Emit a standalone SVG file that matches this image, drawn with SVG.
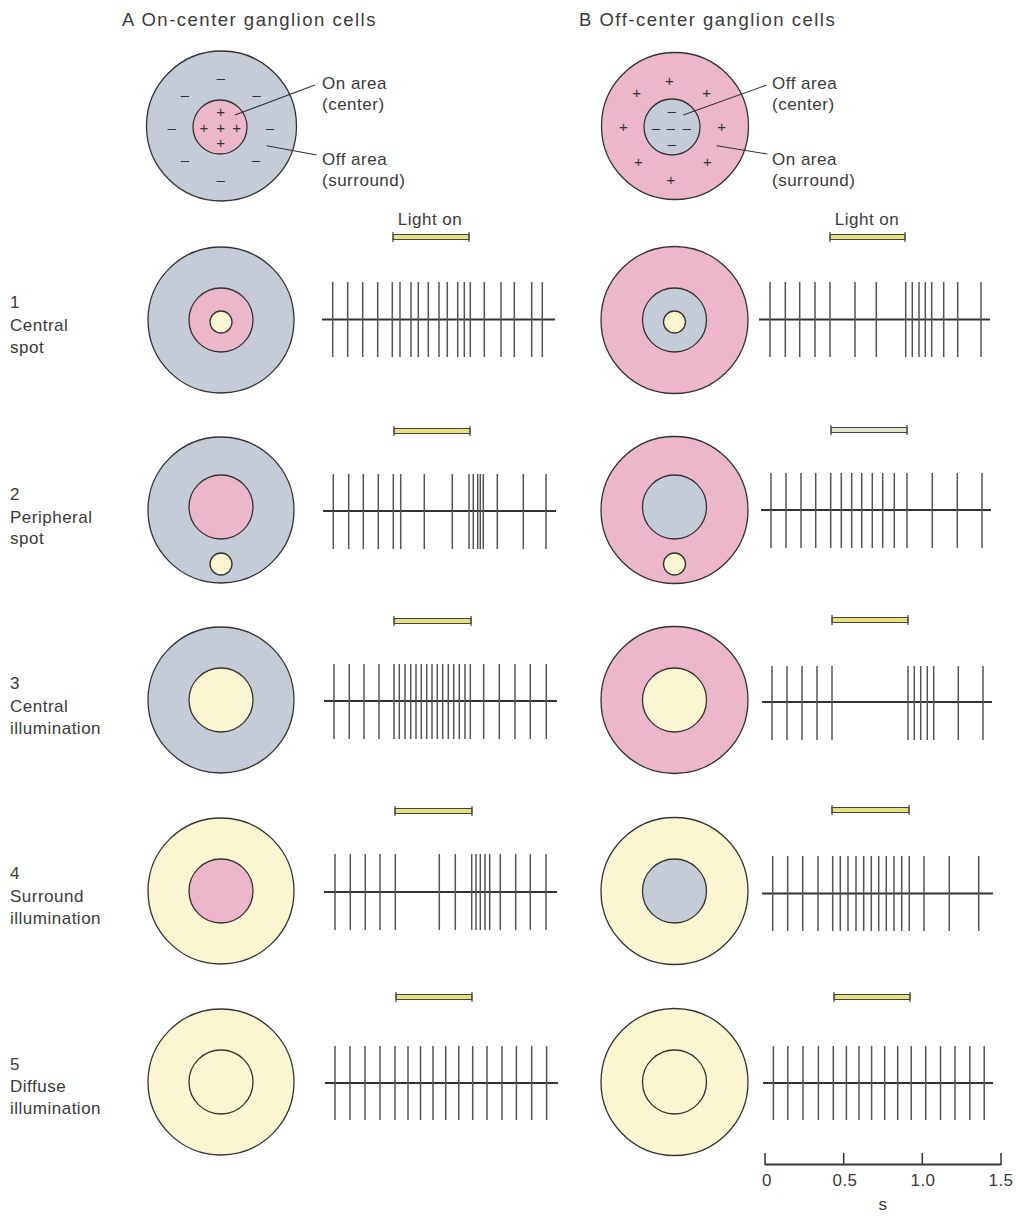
<svg xmlns="http://www.w3.org/2000/svg" width="1016" height="1216" viewBox="0 0 1016 1216">
<style>
text{font-family:"Liberation Sans",Arial,sans-serif;fill:#3a3a3a}
.t{font-size:18.5px;letter-spacing:1.5px}
.l{font-size:17px;letter-spacing:0.5px}
.sg{font-size:15px;text-anchor:middle;dominant-baseline:central;fill:#333}
.c{stroke:#333;stroke-width:1.3}
.blue{fill:#c5ccd8}
.pink{fill:#ecb7ca}
.yel{fill:#faf6d2}
.none{fill:none}
.sp{stroke:#555;stroke-width:1.5;fill:none}
.bl{stroke:#333;stroke-width:2;fill:none}
.bar{fill:#e6df7a;stroke:#444;stroke-width:1}
.bar2{fill:#e2e4cc;stroke:#444;stroke-width:1}
.cap{stroke:#444;stroke-width:1.2}
.ld{stroke:#333;stroke-width:1.1;fill:none}
</style>
<rect width="1016" height="1216" fill="#fff"/>

<g id="titles">
<text class="t" x="122" y="26">A  On-center ganglion cells</text>
<text class="t" x="579" y="26">B  Off-center ganglion cells</text>
</g>

<g id="topA">
<circle class="c blue" cx="221.5" cy="126" r="75"/>
<circle class="c pink" cx="220" cy="127" r="27"/>
<text class="sg" x="220.7" y="111.7">+</text>
<text class="sg" x="204" y="127">+</text>
<text class="sg" x="220.7" y="127">+</text>
<text class="sg" x="236.7" y="127">+</text>
<text class="sg" x="220.7" y="142.7">+</text>
<text class="sg" x="220.7" y="77">–</text>
<text class="sg" x="185" y="94">–</text>
<text class="sg" x="256.7" y="94">–</text>
<text class="sg" x="171.7" y="127">–</text>
<text class="sg" x="270" y="127">–</text>
<text class="sg" x="185" y="159">–</text>
<text class="sg" x="256" y="159">–</text>
<text class="sg" x="220.7" y="179">–</text>
<text class="l" x="322" y="89">On area</text>
<text class="l" x="322" y="110">(center)</text>
<text class="l" x="322" y="165">Off area</text>
<text class="l" x="322" y="186">(surround)</text>
</g>

<g id="topB">
<circle class="c pink" cx="675" cy="126" r="73.5"/>
<circle class="c blue" cx="672" cy="127" r="28"/>
<text class="sg" x="669.3" y="80">+</text>
<text class="sg" x="636.7" y="92.7">+</text>
<text class="sg" x="706.7" y="92.7">+</text>
<text class="sg" x="623.3" y="126.7">+</text>
<text class="sg" x="721.7" y="126.7">+</text>
<text class="sg" x="638.3" y="161.7">+</text>
<text class="sg" x="707.3" y="161.7">+</text>
<text class="sg" x="671" y="179.3">+</text>
<text class="sg" x="671.7" y="110.7">–</text>
<text class="sg" x="656" y="127.3">–</text>
<text class="sg" x="670.7" y="127.3">–</text>
<text class="sg" x="686.7" y="127.3">–</text>
<text class="sg" x="671.7" y="143.3">–</text>
<text class="l" x="772" y="89">Off area</text>
<text class="l" x="772" y="110">(center)</text>
<text class="l" x="772" y="165">On area</text>
<text class="l" x="772" y="186">(surround)</text>
</g>

<g id="connectors">
<path class="ld" d="M235 115 L315 85"/>
<path class="ld" d="M266.7 145.7 L316.7 155"/>
<path class="ld" d="M683.3 115 L766.7 85"/>
<path class="ld" d="M716.7 145.7 L767.3 154"/>
</g>

<g id="rowlabels">
<text class="l" x="10" y="308">1</text><text class="l" x="10" y="331">Central</text><text class="l" x="10" y="353">spot</text>
<text class="l" x="10" y="500">2</text><text class="l" x="10" y="523">Peripheral</text><text class="l" x="10" y="544">spot</text>
<text class="l" x="10" y="689">3</text><text class="l" x="10" y="712">Central</text><text class="l" x="10" y="734">illumination</text>
<text class="l" x="10" y="879">4</text><text class="l" x="10" y="902">Surround</text><text class="l" x="10" y="924">illumination</text>
<text class="l" x="10" y="1070">5</text><text class="l" x="10" y="1092">Diffuse</text><text class="l" x="10" y="1114">illumination</text>
</g>

<g id="lighton">
<text class="l" x="430" y="225" text-anchor="middle">Light on</text>
<text class="l" x="867" y="225" text-anchor="middle">Light on</text>
</g>

<g id="row1A">
<circle class="c blue" cx="221" cy="320" r="73"/>
<circle class="c pink" cx="221" cy="320" r="32"/>
<circle class="c yel" cx="221" cy="322" r="11"/>
<rect class="bar" x="393" y="234.5" width="76" height="5"/><path class="cap" d="M393 232v10M469 232v10"/>
<path class="bl" d="M322 319.5H555"/>
<path class="sp" d="M332.7 282V357M347.7 282V357M362.7 282V357M377.7 282V357M392.3 282V357M400 282V357M411 282V357M418.3 282V357M428.3 282V357M439 282V357M447.3 282V357M457.7 282V357M464.3 282V357M470.3 282V357M484.3 282V357M501 282V357M514.3 282V357M531.7 282V357M542.3 282V357"/>
</g>
<g id="row1B">
<circle class="c pink" cx="674.5" cy="320" r="73.5"/>
<circle class="c blue" cx="674.5" cy="320" r="32"/>
<circle class="c yel" cx="674.5" cy="322" r="11"/>
<rect class="bar" x="830" y="234.5" width="75" height="5"/><path class="cap" d="M830 232v10M905 232v10"/>
<path class="bl" d="M759 319.5H990"/>
<path class="sp" d="M770 282V357M785.3 282V357M799.7 282V357M815 282V357M830 282V357M855 282V357M876.3 282V357M905.7 282V357M912.3 282V357M919 282V357M925.3 282V357M931.7 282V357M943.7 282V357M957.7 282V357M981 282V357"/>
</g>

<g id="row2A">
<circle class="c blue" cx="221" cy="510" r="73"/>
<circle class="c pink" cx="221" cy="507" r="32"/>
<circle class="c yel" cx="221" cy="564" r="11"/>
<rect class="bar" x="394" y="428.5" width="76" height="5"/><path class="cap" d="M394 426v10M470 426v10"/>
<path class="bl" d="M323 511H556"/>
<path class="sp" d="M333.3 474V549M348.7 474V549M363.3 474V549M378.3 474V549M393.3 474V549M400.7 474V549M424.3 474V549M452.3 474V549M469 474V549M473.3 474V549M477.7 474V549M480.3 474V549M483.3 474V549M497.3 474V549M523.3 474V549M546 474V549"/>
</g>
<g id="row2B">
<circle class="c pink" cx="674.5" cy="510" r="73.5"/>
<circle class="c blue" cx="674.5" cy="507" r="32"/>
<circle class="c yel" cx="674.5" cy="564" r="11"/>
<rect class="bar2" x="831" y="427.5" width="76" height="5"/><path class="cap" d="M831 425v10M907 425v10"/>
<path class="bl" d="M761 510H991"/>
<path class="sp" d="M771 473V548M786 473V548M801 473V548M815.7 473V548M830.7 473V548M841.3 473V548M851.7 473V548M861.7 473V548M872.3 473V548M882.7 473V548M894.3 473V548M907 473V548M932.3 473V548M957.3 473V548M982 473V548"/>
</g>

<g id="row3A">
<circle class="c blue" cx="221" cy="700" r="73"/>
<circle class="c yel" cx="221" cy="700" r="32"/>
<rect class="bar" x="394" y="618.5" width="77" height="5"/><path class="cap" d="M394 616v10M471 616v10"/>
<path class="bl" d="M324 701H557"/>
<path class="sp" d="M334 664V739M349.3 664V739M364 664V739M379 664V739M394 664V739M399.3 664V739M405 664V739M410.7 664V739M416 664V739M421.3 664V739M426.7 664V739M432 664V739M437.3 664V739M442.7 664V739M448.3 664V739M453.7 664V739M459.3 664V739M465 664V739M470.3 664V739M483.7 664V739M499.3 664V739M515 664V739M530.3 664V739M546.3 664V739"/>
</g>
<g id="row3B">
<circle class="c pink" cx="674.5" cy="700" r="73.5"/>
<circle class="c yel" cx="674.5" cy="700" r="32"/>
<rect class="bar" x="832" y="617.5" width="76" height="5"/><path class="cap" d="M832 615v10M908 615v10"/>
<path class="bl" d="M762 702H992"/>
<path class="sp" d="M772 666V740M787 666V740M802 666V740M817 666V740M832 666V740M908 666V740M914.3 666V740M920.7 666V740M927.3 666V740M933.7 666V740M958.3 666V740M983 666V740"/>
</g>

<g id="row4A">
<circle class="c yel" cx="221" cy="891" r="73"/>
<circle class="c pink" cx="221" cy="891" r="32"/>
<rect class="bar" x="395" y="808.5" width="77" height="5"/><path class="cap" d="M395 806v10M472 806v10"/>
<path class="bl" d="M324 892H557"/>
<path class="sp" d="M335 854V930M350.3 854V930M365.3 854V930M380 854V930M395.3 854V930M439.3 854V930M455.3 854V930M471.7 854V930M476 854V930M480.3 854V930M485 854V930M489.7 854V930M500.3 854V930M515.7 854V930M530.3 854V930M546 854V930"/>
</g>
<g id="row4B">
<circle class="c yel" cx="674.5" cy="891" r="73.5"/>
<circle class="c blue" cx="674.5" cy="891" r="32"/>
<rect class="bar" x="832" y="807.5" width="77" height="5"/><path class="cap" d="M832 805v10M909 805v10"/>
<path class="bl" d="M762 893.5H993"/>
<path class="sp" d="M772.7 856V931M787.7 856V931M802.7 856V931M818 856V931M832.7 856V931M840.3 856V931M848 856V931M856 856V931M863.7 856V931M871.3 856V931M878.7 856V931M886.3 856V931M894 856V931M901.7 856V931M909.3 856V931M924 856V931M949.3 856V931M978.7 856V931"/>
</g>

<g id="row5A">
<circle class="c yel" cx="221" cy="1082" r="73"/>
<circle class="c none" cx="221" cy="1082" r="32"/>
<rect class="bar" x="396" y="994.5" width="76" height="5"/><path class="cap" d="M396 992v10M472 992v10"/>
<path class="bl" d="M325 1083H558"/>
<path class="sp" d="M335 1046V1120M350 1046V1120M365 1046V1120M380 1046V1120M395 1046V1120M408 1046V1120M420.5 1046V1120M433 1046V1120M445.7 1046V1120M458.8 1046V1120M472.7 1046V1120M487 1046V1120M502 1046V1120M516.4 1046V1120M531.7 1046V1120M546.6 1046V1120"/>
</g>
<g id="row5B">
<circle class="c yel" cx="674.5" cy="1082" r="73.5"/>
<circle class="c none" cx="674.5" cy="1082" r="32"/>
<rect class="bar" x="834" y="994.5" width="76" height="5"/><path class="cap" d="M834 992v10M910 992v10"/>
<path class="bl" d="M763 1083H993"/>
<path class="sp" d="M773.4 1046V1120M787.8 1046V1120M803 1046V1120M818.4 1046V1120M833.3 1046V1120M846.4 1046V1120M859 1046V1120M871.6 1046V1120M884.7 1046V1120M897.7 1046V1120M911.2 1046V1120M925.7 1046V1120M940.5 1046V1120M955 1046V1120M969.8 1046V1120M984.2 1046V1120"/>
</g>

<g id="scalebar">
<path class="bl" d="M765 1164.5H1001"/>
<path stroke="#333" stroke-width="1.5" d="M765 1153V1165M843.7 1153V1165M922.3 1153V1165M1001 1153V1165"/>
<text class="l" x="767" y="1186" text-anchor="middle">0</text>
<text class="l" x="845" y="1186" text-anchor="middle">0.5</text>
<text class="l" x="923" y="1186" text-anchor="middle">1.0</text>
<text class="l" x="1001" y="1186" text-anchor="middle">1.5</text>
<text class="l" x="883" y="1210" text-anchor="middle">s</text>
</g>
</svg>
